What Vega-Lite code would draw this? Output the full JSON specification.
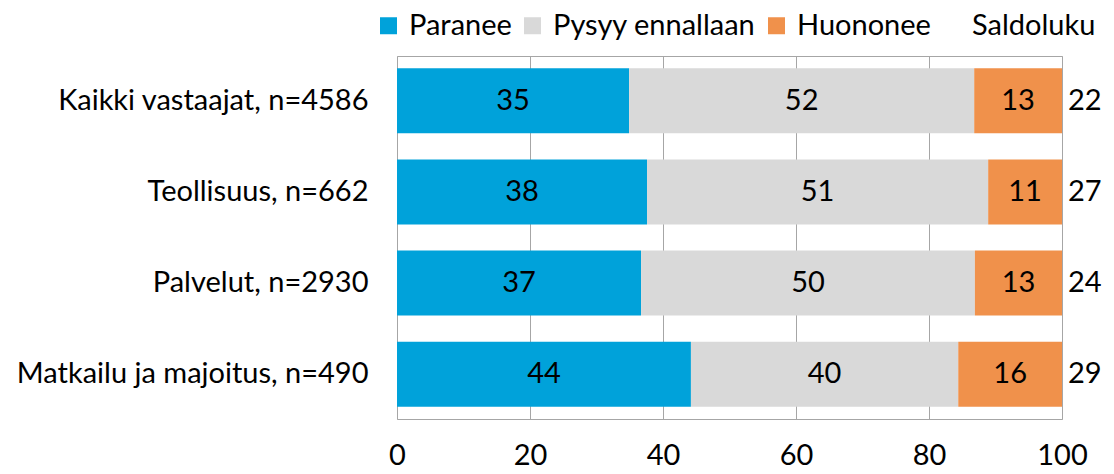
{
  "$schema": "https://vega.github.io/schema/vega-lite/v6.json",
  "width": 665,
  "height": 363,
  "autosize": {"type": "none"},
  "padding": {"left": 397, "top": 56, "right": 52, "bottom": 55},
  "background": "white",
  "config": {
    "font": "Lato",
    "view": {"stroke": "#a6a6a6", "strokeWidth": 1},
    "text": {"font": "Lato", "fontSize": 29, "color": "black"}
  },
  "datasets": {
    "segments": [
      {"group": "Kaikki vastaajat, n=4586", "answer": "Paranee", "i": 1, "share": 34.9},
      {"group": "Kaikki vastaajat, n=4586", "answer": "Pysyy ennallaan", "i": 2, "share": 51.9},
      {"group": "Kaikki vastaajat, n=4586", "answer": "Huononee", "i": 3, "share": 13.2},
      {"group": "Teollisuus, n=662", "answer": "Paranee", "i": 1, "share": 37.6},
      {"group": "Teollisuus, n=662", "answer": "Pysyy ennallaan", "i": 2, "share": 51.3},
      {"group": "Teollisuus, n=662", "answer": "Huononee", "i": 3, "share": 11.1},
      {"group": "Palvelut, n=2930", "answer": "Paranee", "i": 1, "share": 36.7},
      {"group": "Palvelut, n=2930", "answer": "Pysyy ennallaan", "i": 2, "share": 50.2},
      {"group": "Palvelut, n=2930", "answer": "Huononee", "i": 3, "share": 13.1},
      {"group": "Matkailu ja majoitus, n=490", "answer": "Paranee", "i": 1, "share": 44.2},
      {"group": "Matkailu ja majoitus, n=490", "answer": "Pysyy ennallaan", "i": 2, "share": 40.2},
      {"group": "Matkailu ja majoitus, n=490", "answer": "Huononee", "i": 3, "share": 15.6}
    ],
    "saldo": [
      {"group": "Kaikki vastaajat, n=4586", "saldoluku": 22},
      {"group": "Teollisuus, n=662", "saldoluku": 27},
      {"group": "Palvelut, n=2930", "saldoluku": 24},
      {"group": "Matkailu ja majoitus, n=490", "saldoluku": 29}
    ]
  },
  "encoding": {
    "y": {
      "field": "group",
      "type": "nominal",
      "sort": ["Kaikki vastaajat, n=4586", "Teollisuus, n=662", "Palvelut, n=2930", "Matkailu ja majoitus, n=490"],
      "scale": {"paddingInner": 0.287, "paddingOuter": 0.135},
      "axis": {
        "title": null,
        "ticks": false,
        "domain": false,
        "labelFont": "Lato",
        "labelFontSize": 29,
        "labelColor": "black",
        "labelPadding": 29,
        "labelLimit": 500
      }
    }
  },
  "layer": [
    {
      "data": {"name": "segments"},
      "mark": {"type": "bar"},
      "encoding": {
        "x": {
          "field": "share",
          "type": "quantitative",
          "stack": "zero",
          "scale": {"domain": [0, 100], "nice": false},
          "axis": {
            "orient": "bottom",
            "title": null,
            "values": [0, 20, 40, 60, 80, 100],
            "grid": true,
            "gridColor": "#a6a6a6",
            "gridOpacity": 1,
            "gridWidth": 1,
            "domain": false,
            "ticks": false,
            "tickSize": 0,
            "labelPadding": 22,
            "labelFont": "Lato",
            "labelFontSize": 29,
            "labelColor": "black",
            "labelFlush": false
          }
        },
        "color": {
          "field": "answer",
          "type": "nominal",
          "scale": {
            "domain": ["Paranee", "Pysyy ennallaan", "Huononee", "Saldoluku"],
            "range": ["#00A2DA", "#D9D9D9", "#F0914B", "rgba(255,255,255,0)"]
          },
          "legend": {
            "orient": "none",
            "legendX": -23,
            "legendY": -45,
            "padding": 0,
            "direction": "horizontal",
            "title": null,
            "symbolType": "square",
            "symbolSize": 289,
            "symbolStrokeWidth": 0,
            "labelFont": "Lato",
            "labelFontSize": 29,
            "labelColor": "black",
            "labelOffset": 6,
            "columnPadding": 6,
            "labelLimit": 400
          }
        },
        "order": {"field": "i", "type": "quantitative"}
      }
    },
    {
      "data": {"name": "segments"},
      "mark": {"type": "text", "align": "center", "baseline": "middle"},
      "encoding": {
        "x": {
          "field": "share",
          "type": "quantitative",
          "stack": "zero",
          "bandPosition": 0.5
        },
        "text": {"field": "share", "type": "quantitative", "format": ".0f"},
        "order": {"field": "i", "type": "quantitative"}
      }
    },
    {
      "data": {"name": "saldo"},
      "mark": {"type": "text", "align": "left", "baseline": "middle", "dx": 6},
      "encoding": {
        "x": {"datum": 100, "type": "quantitative"},
        "text": {"field": "saldoluku", "type": "quantitative"}
      }
    }
  ]
}
